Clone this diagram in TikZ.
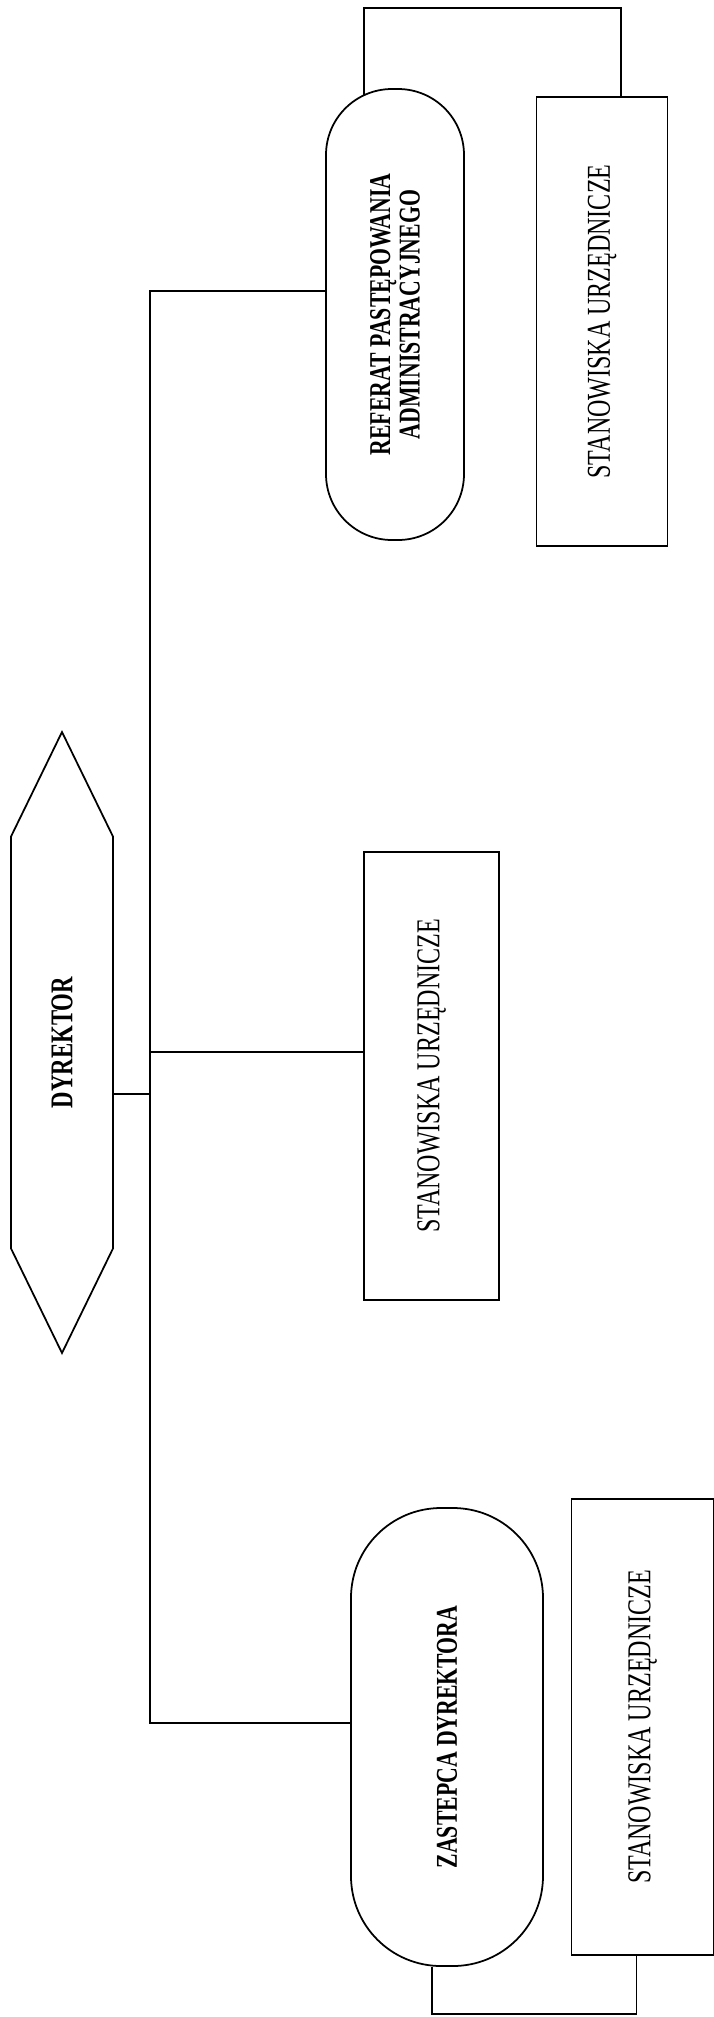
\documentclass[tikz,border=0pt]{standalone}
\usepackage{fontspec}
\setmainfont{Liberation Serif}[FakeStretch=0.72]
\usetikzlibrary{shapes.symbols}

\begin{document}
\begin{tikzpicture}[
  x=1cm, y=1cm,
  line width=0.5pt,
  boss/.style={draw, signal, signal to=east and west, signal pointer angle=52, rotate=90, align=center, font=\fontsize{9}{9}\selectfont\bfseries},
  unit/.style={draw, rounded corners=6.6mm, rotate=90, align=center, font=\fontsize{8.6}{8.4}\selectfont\bfseries},
  post/.style={draw, rotate=90, align=center, font=\fontsize{9.5}{10}\selectfont}
]
\useasboundingbox (0,0) rectangle (7.14,-20.17);

% director
\node[boss, minimum width=6.21cm, minimum height=1.02cm] (dyr) at (0.62,-10.425) {DYREKTOR};

% top branch
\node[unit, minimum width=4.51cm, minimum height=1.38cm] (ref) at (3.95,-3.145) {REFERAT PASTĘPOWANIA\\ADMINISTRACYJNEGO};
\node[post, minimum width=4.49cm, minimum height=1.31cm] (sr1) at (6.02,-3.215) {STANOWISKA URZĘDNICZE};

% middle
\node[post, minimum width=4.48cm, minimum height=1.35cm] (sm) at (4.315,-10.76) {STANOWISKA URZĘDNICZE};

% bottom branch
\node[unit, rounded corners=9mm, minimum width=4.58cm, minimum height=1.92cm] (zas) at (4.47,-17.37) {ZASTEPCA DYREKTORA};
\node[post, minimum width=4.56cm, minimum height=1.42cm] (sz) at (6.425,-17.27) {STANOWISKA URZĘDNICZE};

\coordinate (t1) at (1.50,-2.91);
\coordinate (t2) at (1.50,-10.52);
\coordinate (t3) at (1.50,-10.94);
\coordinate (t4) at (1.50,-17.23);

\draw (ref.north |- t1) -- (t1) -- (t4) -- (zas.north |- t4);
\draw (t2) -- (sm.north |- t2);
\draw (dyr.south |- t3) -- (t3);
\draw ([xshift=-3.1mm,yshift=-0.7mm]ref.east) -- ++(0,0.87) -| ([xshift=1.9mm]sr1.east);
\draw ([xshift=-1.5mm]zas.west) -- ++(0,-0.47) -| ([xshift=-0.6mm]sz.west);
\end{tikzpicture}
\end{document}
